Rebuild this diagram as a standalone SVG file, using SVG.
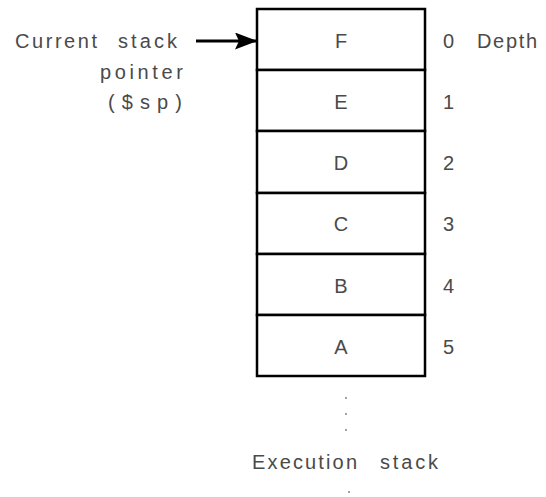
<svg xmlns="http://www.w3.org/2000/svg" width="546" height="497" viewBox="0 0 546 497">
  <style>
    text { font-family: "Liberation Sans", Arial, sans-serif; font-size: 20px; fill: #4a4a4a; }
    .cell rect { fill: #fff; stroke: #000; stroke-width: 2.5; }
    .mid { text-anchor: middle; }
    .wire { stroke: #000; stroke-width: 3; fill: none; }
    .dot { fill: #777; }
  </style>
  <defs>
    <marker id="head" markerWidth="22" markerHeight="17" refX="22" refY="8.5" orient="auto" markerUnits="userSpaceOnUse" viewBox="0 0 22 17">
      <path d="M0,0 L22,8.5 L0,17 L4,8.5 Z" fill="#000"/>
    </marker>
  </defs>

  <!-- stack cells, top (depth 0) to bottom -->
  <g id="cell-F" class="cell"><rect x="257" y="9" width="168" height="61"/><text class="mid" x="341" y="48">F</text></g>
  <g id="cell-E" class="cell"><rect x="257" y="70" width="168" height="61"/><text class="mid" x="341" y="109">E</text></g>
  <g id="cell-D" class="cell"><rect x="257" y="131" width="168" height="62"/><text class="mid" x="341" y="170">D</text></g>
  <g id="cell-C" class="cell"><rect x="257" y="193" width="168" height="61"/><text class="mid" x="341" y="231">C</text></g>
  <g id="cell-B" class="cell"><rect x="257" y="254" width="168" height="61"/><text class="mid" x="341" y="293">B</text></g>
  <g id="cell-A" class="cell"><rect x="257" y="315" width="168" height="61"/><text class="mid" x="341" y="354">A</text></g>

  <!-- depth indices -->
  <g id="depth">
    <text x="443" y="48">0</text>
    <text x="477" y="48" textLength="60" lengthAdjust="spacing">Depth</text>
    <text x="443" y="109">1</text>
    <text x="443" y="170">2</text>
    <text x="443" y="231">3</text>
    <text x="443" y="293">4</text>
    <text x="443" y="354">5</text>
  </g>

  <!-- stack pointer label -->
  <g id="sp-label">
    <text x="15" y="48" textLength="82" lengthAdjust="spacing">Current</text>
    <text x="118" y="48" textLength="59" lengthAdjust="spacing">stack</text>
    <text x="100" y="79" textLength="83" lengthAdjust="spacing">pointer</text>
    <text x="108" y="109" textLength="74" lengthAdjust="spacing">($sp)</text>
  </g>

  <!-- continuation and caption -->
  <g id="caption">
    <circle class="dot" cx="346" cy="398" r="0.9"/>
    <circle class="dot" cx="346" cy="414" r="0.9"/>
    <circle class="dot" cx="346" cy="430" r="0.9"/>
    <text x="252" y="469" textLength="105" lengthAdjust="spacing">Execution</text>
    <text x="380" y="469" textLength="58" lengthAdjust="spacing">stack</text>
    <circle class="dot" cx="349" cy="492" r="0.9"/>
  </g>

  <g id="connectors">
    <line class="wire" x1="196" y1="41" x2="257" y2="41" marker-end="url(#head)"/>
  </g>
</svg>
